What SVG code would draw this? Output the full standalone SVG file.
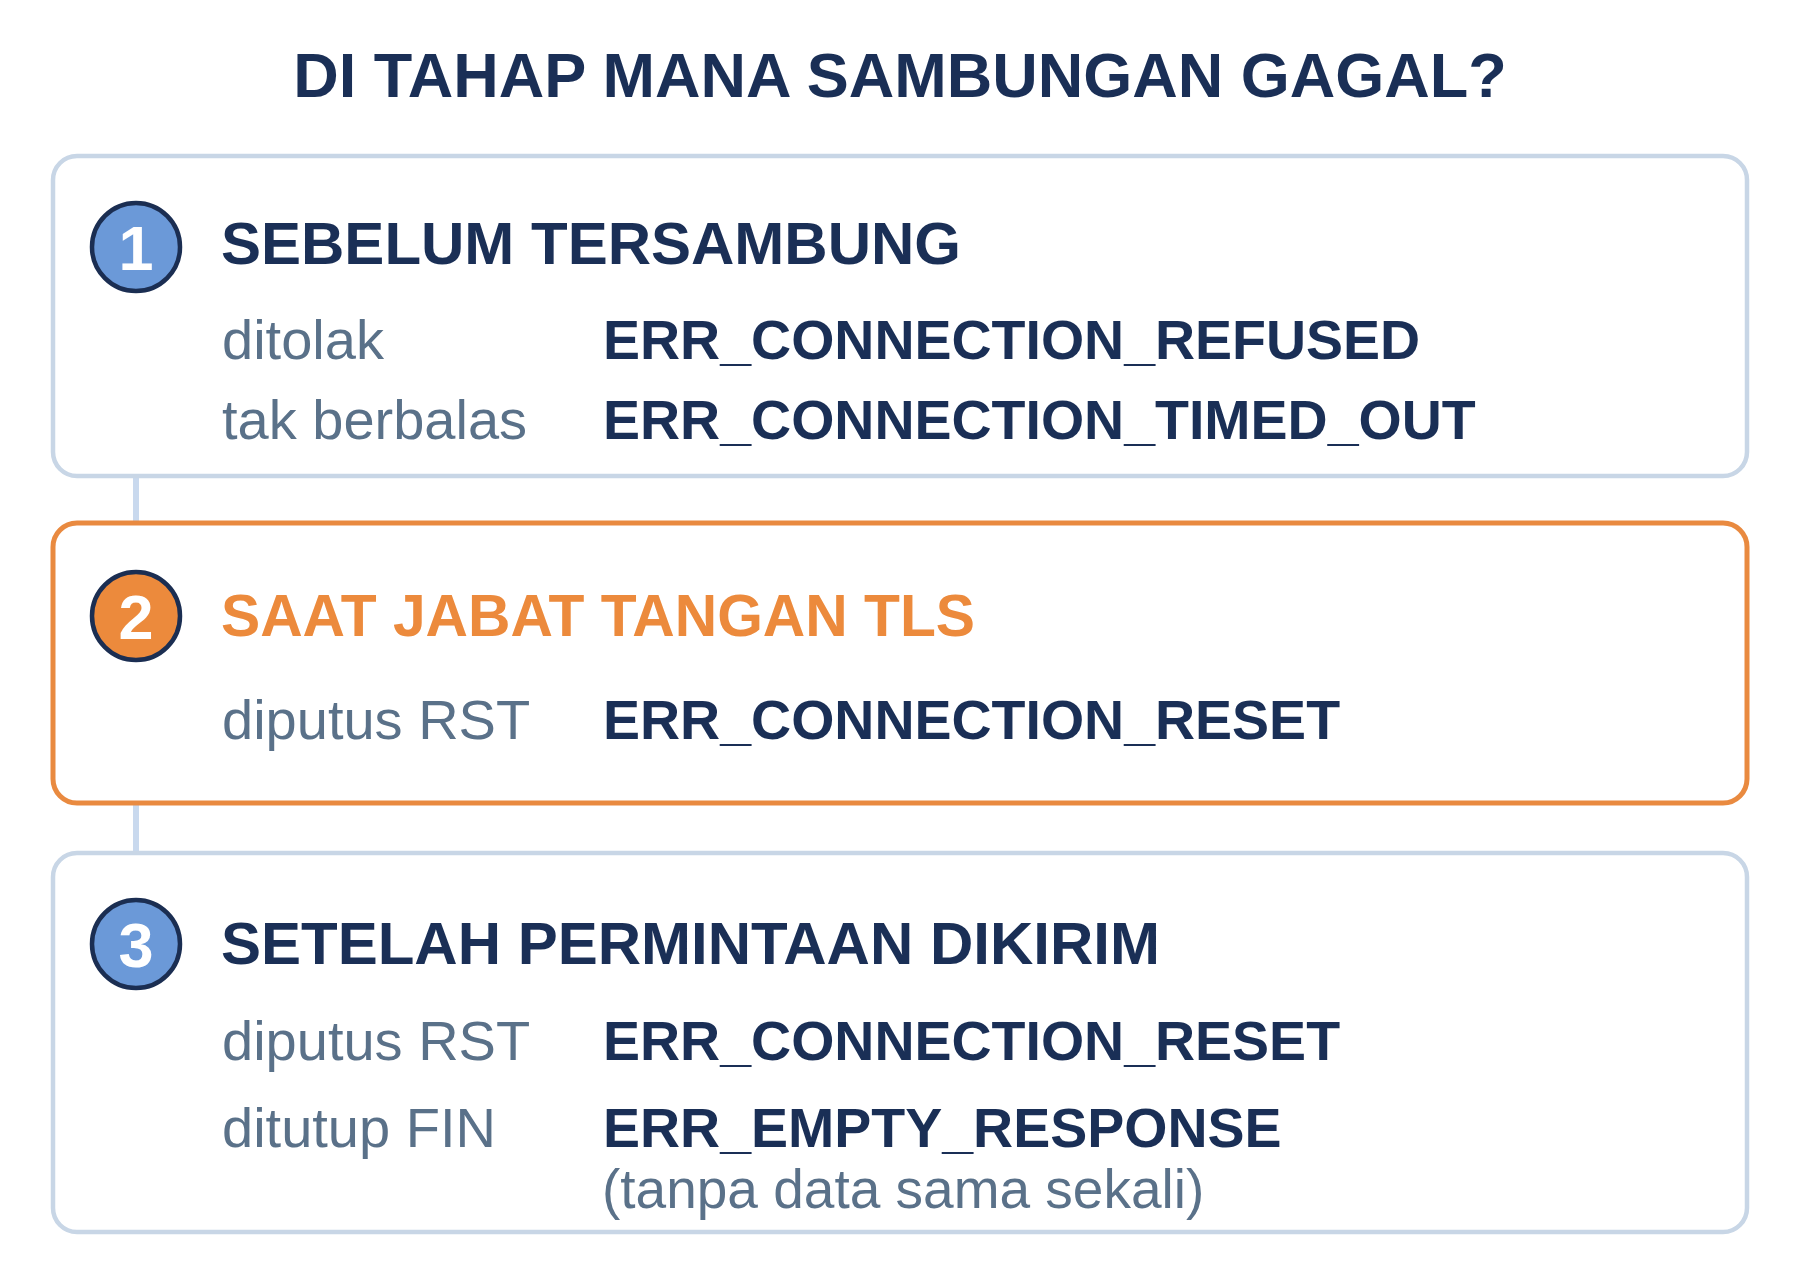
<svg xmlns="http://www.w3.org/2000/svg" width="1800" height="1280" viewBox="0 0 1800 1280">
<style>
  text { font-family: "Liberation Sans", Arial, Helvetica, sans-serif; }
  .title { font-size: 63px; font-weight: bold; fill: #1a2f56; }
  .box { fill: #ffffff; stroke: #c8d6e6; stroke-width: 4.5; }
  .box.hot { stroke: #e98a40; stroke-width: 5; }
  .badge { stroke: #1b2e52; stroke-width: 4.5; }
  .badge.blue { fill: #6b99d8; }
  .badge.orange { fill: #ec8a3c; }
  .num { font-size: 63px; font-weight: bold; fill: #ffffff; text-anchor: middle; }
  .head { font-size: 60px; font-weight: bold; fill: #1a2f56; }
  .head.hot { fill: #ec8a3c; }
  .lbl { font-size: 56px; fill: #5a7189; }
  .note { font-size: 55px; fill: #5a7189; }
  .code { font-size: 55.5px; font-weight: bold; fill: #1a2f56; }
  .conn { stroke: #c9d9ee; stroke-width: 6; fill: none; }
</style>
<rect width="1800" height="1280" fill="#ffffff"/>
<text class="title" x="900" y="97" text-anchor="middle">DI TAHAP MANA SAMBUNGAN GAGAL?</text>
<g id="connectors">
  <line class="conn" x1="136" y1="476" x2="136" y2="523"/>
  <line class="conn" x1="136" y1="803" x2="136" y2="853"/>
</g>
<g id="stage1">
  <rect class="box" x="53" y="156" width="1694" height="320" rx="24"/>
  <circle class="badge blue" cx="136" cy="247" r="44"/>
  <text class="num" x="136" y="270">1</text>
  <text class="head" x="221" y="264">SEBELUM TERSAMBUNG</text>
  <text class="lbl" x="222" y="359">ditolak</text>
  <text class="code" x="603" y="359">ERR_CONNECTION_REFUSED</text>
  <text class="lbl" x="222" y="439">tak berbalas</text>
  <text class="code" x="603" y="439">ERR_CONNECTION_TIMED_OUT</text>
</g>
<g id="stage2">
  <rect class="box hot" x="53" y="523" width="1694" height="280" rx="24"/>
  <circle class="badge orange" cx="136" cy="616" r="44"/>
  <text class="num" x="136" y="639">2</text>
  <text class="head hot" x="221" y="636" textLength="754" lengthAdjust="spacingAndGlyphs">SAAT JABAT TANGAN TLS</text>
  <text class="lbl" x="222" y="739">diputus RST</text>
  <text class="code" x="603" y="739">ERR_CONNECTION_RESET</text>
</g>
<g id="stage3">
  <rect class="box" x="53" y="853" width="1694" height="379" rx="24"/>
  <circle class="badge blue" cx="136" cy="944" r="44"/>
  <text class="num" x="136" y="967">3</text>
  <text class="head" x="221" y="964">SETELAH PERMINTAAN DIKIRIM</text>
  <text class="lbl" x="222" y="1060">diputus RST</text>
  <text class="code" x="603" y="1060">ERR_CONNECTION_RESET</text>
  <text class="lbl" x="222" y="1147">ditutup FIN</text>
  <text class="code" x="603" y="1147">ERR_EMPTY_RESPONSE</text>
  <text class="note" x="602" y="1208">(tanpa data sama sekali)</text>
</g>
</svg>
